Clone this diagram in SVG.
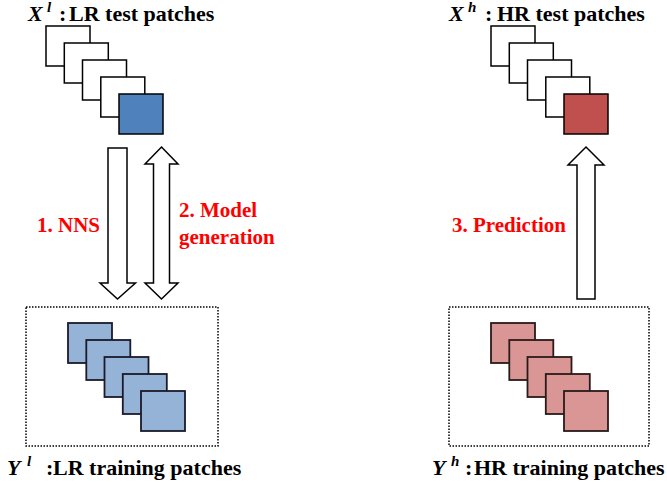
<svg xmlns="http://www.w3.org/2000/svg" width="667" height="488" viewBox="0 0 667 488">
<style>
.t{font-family:"Liberation Serif","Times New Roman",serif;font-weight:bold;font-size:22px;fill:#000}
.m{font-style:italic}
.sup{font-size:15px}
.r{font-family:"Liberation Serif","Times New Roman",serif;font-weight:bold;font-size:21px;fill:#ff0000}
.w{fill:#fff;stroke:#000;stroke-width:1.5}
.db{fill:#4f81bd;stroke:#000;stroke-width:1.5}
.dr{fill:#c0504d;stroke:#000;stroke-width:1.5}
.lb{fill:#95b3d7;stroke:#1a1a2a;stroke-width:1.8}
.lr{fill:#d99694;stroke:#2a1a1a;stroke-width:1.8}
.box{fill:none;stroke:#000;stroke-width:1.5;stroke-dasharray:1.5 1.5}
.ar{fill:#fff;stroke:#000;stroke-width:1.5;stroke-linejoin:miter}
</style>
<g id="Xl">
<rect class="w" x="46" y="26" width="44" height="40"/>
<rect class="w" x="64.3" y="43" width="44" height="40"/>
<rect class="w" x="82.5" y="60" width="44" height="40"/>
<rect class="w" x="100.8" y="77" width="44" height="40"/>
<rect class="db" x="119" y="94" width="44" height="40"/>
<text class="t m" x="28" y="21">X</text>
<text class="t m sup" x="47" y="12">l</text>
<text class="t" x="59" y="21">:</text>
<text class="t" x="69" y="21">LR test patches</text>
</g>
<g id="Xh">
<rect class="w" x="491" y="26" width="44" height="40"/>
<rect class="w" x="509.3" y="43" width="44" height="40"/>
<rect class="w" x="527.5" y="60" width="44" height="40"/>
<rect class="w" x="545.8" y="77" width="44" height="40"/>
<rect class="dr" x="564" y="94" width="44" height="40"/>
<text class="t m" x="449" y="21">X</text>
<text class="t m sup" x="468" y="12">h</text>
<text class="t" x="485" y="21">:</text>
<text class="t" x="497" y="21">HR test patches</text>
</g>
<g id="Yl">
<rect class="box" x="26" y="307" width="192" height="139"/>
<rect class="lb" x="68" y="323" width="44" height="40"/>
<rect class="lb" x="86.3" y="340" width="44" height="40"/>
<rect class="lb" x="104.5" y="357" width="44" height="40"/>
<rect class="lb" x="122.8" y="374" width="44" height="40"/>
<rect class="lb" x="141" y="391" width="44" height="40"/>
<text class="t m" x="7" y="475">Y</text>
<text class="t m sup" x="27" y="466">l</text>
<text class="t" x="46" y="475">:</text>
<text class="t" x="53" y="475">LR training patches</text>
</g>
<g id="Yh">
<rect class="box" x="449" y="307" width="200" height="139"/>
<rect class="lr" x="491" y="323" width="44" height="40"/>
<rect class="lr" x="509.3" y="340" width="44" height="40"/>
<rect class="lr" x="527.5" y="357" width="44" height="40"/>
<rect class="lr" x="545.8" y="374" width="44" height="40"/>
<rect class="lr" x="564" y="391" width="44" height="40"/>
<text class="t m" x="432" y="475">Y</text>
<text class="t m sup" x="451" y="466">h</text>
<text class="t" x="465" y="475">:</text>
<text class="t" x="474" y="475">HR training patches</text>
</g>
<g id="connectors">
<path class="ar" d="M108,148 H127 V283 H135.5 L117.5,299 L100,283 H108 Z"/>
<path class="ar" d="M161.5,147 L178,164 H169.5 V283 H178 L161.5,299 L145,283 H153.5 V164 H145 Z"/>
<path class="ar" d="M586,147 L604,165 H595 V299 H577 V165 H568 Z"/>
<text class="r" x="37" y="232">1. NNS</text>
<text class="r" x="179" y="217">2. Model</text>
<text class="r" x="179" y="244">generation</text>
<text class="r" x="452" y="232">3. Prediction</text>
</g>
</svg>
